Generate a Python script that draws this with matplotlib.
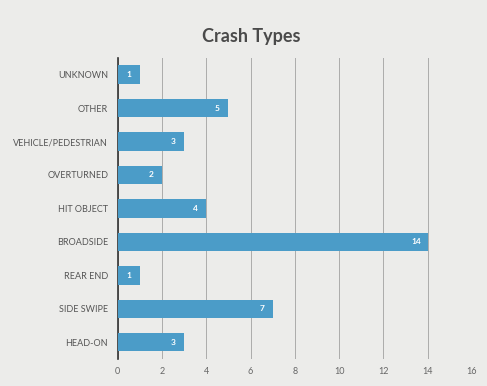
import numpy as np
import matplotlib.pyplot as plt

plt.rcParams['font.family'] = ['Lato', 'DejaVu Sans']

# categories top to bottom
categories = ['UNKNOWN', 'OTHER', 'VEHICLE/PEDESTRIAN', 'OVERTURNED', 'HIT OBJECT',
              'BROADSIDE', 'REAR END', 'SIDE SWIPE', 'HEAD-ON']
counts = [1, 5, 3, 2, 4, 14, 1, 7, 3]
xticks = [0, 2, 4, 6, 8, 10, 12, 14, 16]

bar_color = '#4b9cc8'
bg = '#ececea'

fig = plt.figure(figsize=(4.87, 3.86), dpi=100, facecolor=bg)
ax = fig.add_axes([0.242, 0.070, 0.727, 0.780])
ax.set_facecolor(bg)

y = np.arange(len(categories))
ax.barh(y, counts, height=0.55, color=bar_color, zorder=3)

for yi, v in zip(y, counts):
    ax.text(v - 0.5, yi, str(v), ha='center', va='center', color='white',
            fontsize=6, fontweight='bold', zorder=4)

ax.set_yticks(y)
ax.set_yticklabels(categories, fontsize=6.5, color='#555555')
ax.set_ylim(len(categories) - 0.5, -0.5)
ax.set_xlim(0, 16)
ax.set_xticks(xticks)
ax.set_xticklabels([str(t) for t in xticks], fontsize=6.5, color='#666666')
ax.tick_params(axis='y', length=0, pad=7)
ax.tick_params(axis='x', length=0, pad=6)

ax.grid(axis='x', color='#ababab', linewidth=0.7, zorder=1)
for s in ['top', 'right', 'bottom']:
    ax.spines[s].set_visible(False)
ax.spines['left'].set_color('#333333')
ax.spines['left'].set_linewidth(1.2)

fig.text(0.515, 0.905, 'Crash Types', ha='center', va='center', fontsize=13,
         color='#4a4a4a', fontweight='bold')

fig.savefig('out.png', dpi=100, facecolor=bg)
